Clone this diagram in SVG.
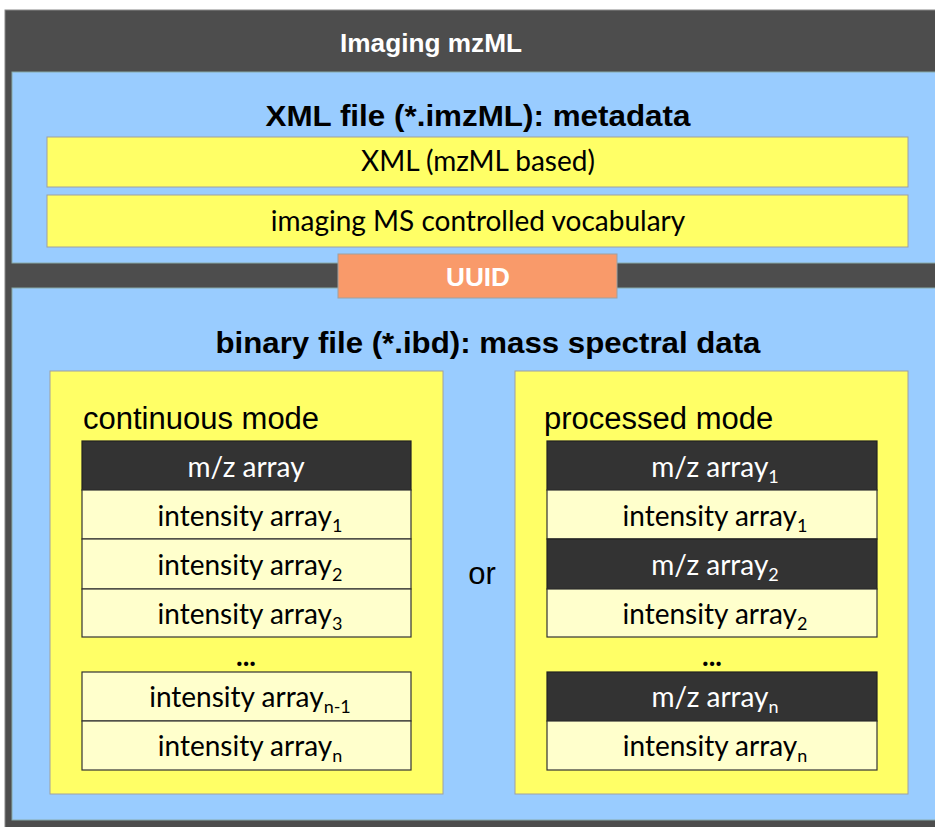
<svg xmlns="http://www.w3.org/2000/svg" width="935" height="827" viewBox="0 0 935 827">
<style>
.hd{font-family:"Liberation Sans",Arial,sans-serif;font-weight:bold;text-anchor:middle}
.ttl{font-family:"Liberation Sans",Arial,sans-serif;font-size:31px;fill:#000}
.cal{font-family:Lato,"Noto Sans",sans-serif;font-size:28px;text-anchor:middle}
.box{fill:#FFFF66;stroke:#A0A0A0;stroke-width:1}
.lt{fill:#FFFFCC;stroke:#333;stroke-width:1.2}
.dk{fill:#333333;stroke:#222;stroke-width:1.2}
.blue{fill:#99CCFF;stroke:#8AA;stroke-width:1}
.sub{font-size:18px}
</style>
<rect id="bg" x="0" y="0" width="935" height="827" fill="#ffffff"/>
<g id="outer">
<rect x="5" y="10" width="935" height="830" fill="#4D4D4D" stroke="#888" stroke-width="1"/>
<text class="hd" x="431" y="52" font-size="26" fill="#fff" textLength="182" lengthAdjust="spacingAndGlyphs">Imaging mzML</text>
</g>
<g id="xmlfile">
<rect class="blue" x="12" y="72" width="930" height="191"/>
<text class="hd" x="478" y="126" font-size="30" fill="#000" textLength="425" lengthAdjust="spacingAndGlyphs">XML file (*.imzML): metadata</text>
</g>
<g id="xmlbased">
<rect class="box" x="47" y="137" width="861" height="50"/>
<text class="cal" x="478" y="171" fill="#000">XML (mzML based)</text>
</g>
<g id="vocab">
<rect class="box" x="47" y="195" width="861" height="52"/>
<text class="cal" x="478" y="231" fill="#000">imaging MS controlled vocabulary</text>
</g>
<g id="binfile">
<rect class="blue" x="12" y="288" width="930" height="532"/>
<text class="hd" x="488" y="353" font-size="30" fill="#000" textLength="545" lengthAdjust="spacingAndGlyphs">binary file (*.ibd): mass spectral data</text>
</g>
<g id="uuid">
<rect x="338" y="254" width="279" height="44" fill="#F99A6A" stroke="#A0A0A0" stroke-width="1"/>
<text class="hd" x="478" y="286" font-size="26" fill="#fff" textLength="64" lengthAdjust="spacingAndGlyphs">UUID</text>
</g>
<g id="continuous">
<rect class="box" x="50" y="371" width="393" height="423"/>
<text class="ttl" x="83" y="429">continuous mode</text>
<rect class="dk" x="82" y="441" width="329" height="49"/>
<text class="cal" x="246" y="477" fill="#fff">m/z array</text>
<rect class="lt" x="82" y="490" width="329" height="49"/>
<text class="cal" x="250" y="526" fill="#000">intensity array<tspan class="sub" dy="6">1</tspan></text>
<rect class="lt" x="82" y="539" width="329" height="50"/>
<text class="cal" x="250" y="575" fill="#000">intensity array<tspan class="sub" dy="6">2</tspan></text>
<rect class="lt" x="82" y="589" width="329" height="48"/>
<text class="cal" x="250" y="624" fill="#000">intensity array<tspan class="sub" dy="6">3</tspan></text>
<text class="cal" x="246" y="666" fill="#000" font-weight="bold">...</text>
<rect class="lt" x="82" y="672" width="329" height="49"/>
<text class="cal" x="250" y="707" fill="#000">intensity array<tspan class="sub" dy="6">n-1</tspan></text>
<rect class="lt" x="82" y="721" width="329" height="49"/>
<text class="cal" x="250" y="756" fill="#000">intensity array<tspan class="sub" dy="6">n</tspan></text>
</g>
<g id="or">
<text class="ttl" x="482" y="584" text-anchor="middle">or</text>
</g>
<g id="processed">
<rect class="box" x="515" y="371" width="393" height="423"/>
<text class="ttl" x="544" y="429">processed mode</text>
<rect class="dk" x="547" y="441" width="330" height="49"/>
<text class="cal" x="715" y="477" fill="#fff">m/z array<tspan class="sub" dy="6">1</tspan></text>
<rect class="lt" x="547" y="490" width="330" height="49"/>
<text class="cal" x="715" y="526" fill="#000">intensity array<tspan class="sub" dy="6">1</tspan></text>
<rect class="dk" x="547" y="539" width="330" height="50"/>
<text class="cal" x="715" y="575" fill="#fff">m/z array<tspan class="sub" dy="6">2</tspan></text>
<rect class="lt" x="547" y="589" width="330" height="48"/>
<text class="cal" x="715" y="624" fill="#000">intensity array<tspan class="sub" dy="6">2</tspan></text>
<text class="cal" x="712" y="666" fill="#000" font-weight="bold">...</text>
<rect class="dk" x="547" y="672" width="330" height="49"/>
<text class="cal" x="715" y="707" fill="#fff">m/z array<tspan class="sub" dy="6">n</tspan></text>
<rect class="lt" x="547" y="721" width="330" height="49"/>
<text class="cal" x="715" y="756" fill="#000">intensity array<tspan class="sub" dy="6">n</tspan></text>
</g>
</svg>
